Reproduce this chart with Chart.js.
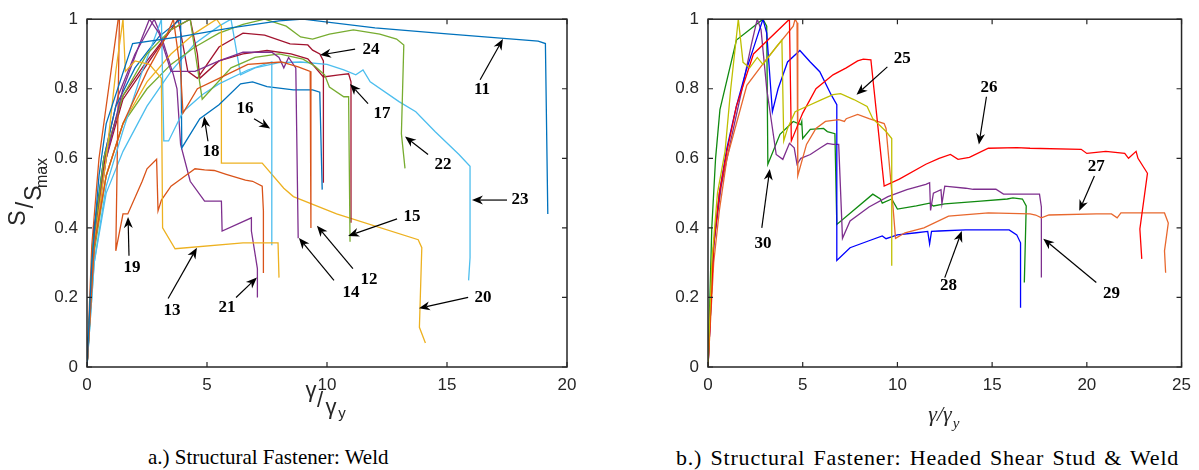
<!DOCTYPE html>
<html>
<head>
<meta charset="utf-8">
<script src="https://cdn.jsdelivr.net/npm/chart.js@4.4.1/dist/chart.umd.min.js"></script>
<style>
	body { margin: 0; background: #fff; width: 1199px; height: 470px; overflow: hidden; position: relative; }
	#wrapA { position: absolute; left: 0; top: 0; width: 600px; height: 440px; }
	#wrapB { position: absolute; left: 620px; top: 0; width: 579px; height: 440px; }
	.cap { position: absolute; top: 445px; font-family: "Liberation Serif", serif; font-size: 21px; color: #000; white-space: nowrap; }
</style>
</head>
<body>
<div id="wrapA"><canvas id="weldChart"></canvas></div>
<div id="wrapB"><canvas id="studChart"></canvas></div>
<div class="cap" style="left:148px">a.) Structural Fastener: Weld</div>
<div class="cap" style="left:676px; font-size:22px; letter-spacing:0.8px; word-spacing:2px">b.) Structural Fastener: Headed Shear Stud &amp; Weld</div>
<script>
//data: [gamma/gamma_y, S/Smax]

//a.) weld specimens
const weld11 = [[0,0],[0.2,0.3],[0.5,0.55],[0.8,0.7],[1.9,0.93],[3.9,0.95],[6,0.975],[8,0.995],[9,1.0],[12,0.975],[15,0.958],[18.8,0.937],[19.1,0.93],[19.2,0.44]];
const weld12 = [[0,0],[0.3,0.35],[0.8,0.55],[1.5,0.7],[2.5,0.85],[3.3,0.95],[3.6,1.0],[3.9,0.85],[4.0,0.73],[4.6,0.8],[5.5,0.83],[6.7,0.87],[8.1,0.877],[8.8,0.863],[9.3,0.85],[9.33,0.4]];
const weld13 = [[0,0],[0.3,0.35],[0.8,0.6],[1.2,0.85],[1.5,1.0],[1.6,0.85],[2.0,0.88],[2.6,0.87],[3.1,0.83],[3.15,0.4],[3.67,0.34],[6.5,0.357],[7.96,0.357],[8.0,0.257]];
const weld14 = [[0,0],[0.3,0.35],[0.8,0.6],[1.5,0.8],[2.2,0.93],[2.6,1.0],[3.0,0.96],[3.5,0.85],[4.5,0.85],[5.5,0.88],[6.5,0.905],[7.7,0.905],[8.0,0.89],[8.2,0.86],[8.4,0.89],[8.7,0.86],[8.8,0.37]];
const weld15 = [[0,0],[0.25,0.35],[0.7,0.6],[1.5,0.78],[2.5,0.9],[3.5,0.97],[4.3,1.0],[4.8,0.77],[5.2,0.8],[6,0.86],[7,0.89],[8,0.9],[9,0.885],[9.5,0.865],[9.9,0.84],[10.1,0.805],[10.7,0.777],[10.9,0.777],[10.96,0.36]];
const weld16 = [[0,0],[0.3,0.3],[0.8,0.52],[1.5,0.68],[2.3,0.85],[3.0,0.98],[3.1,1.0],[3.2,0.65],[3.4,0.65],[4.0,0.734],[4.8,0.783],[5.5,0.814],[6.7,0.854],[7.7,0.877],[7.7,0.35]];
const weld17 = [[0,0],[0.3,0.4],[0.8,0.62],[1.5,0.78],[2.5,0.88],[3.5,0.97],[4.3,1.0],[4.6,0.9],[4.7,0.83],[5.5,0.88],[6.5,0.9],[7.5,0.91],[8.5,0.9],[9.2,0.886],[9.85,0.834],[10.5,0.84],[10.9,0.843],[11.0,0.82],[11.0,0.415]];
const weld18 = [[0,0],[0.3,0.4],[0.7,0.6],[1.2,0.75],[2,0.86],[3,0.95],[3.9,1.0],[3.95,0.63],[4.7,0.714],[5.5,0.754],[6.4,0.814],[6.9,0.82],[7.5,0.806],[8.6,0.797],[9.4,0.797],[9.7,0.79],[9.8,0.51]];
const weld19 = [[0,0],[0.2,0.35],[0.5,0.6],[0.9,0.8],[1.2,0.95],[1.3,1.0],[1.35,1.0],[1.2,0.334],[1.5,0.44],[1.7,0.44],[2.3,0.534],[2.5,0.57],[2.9,0.597],[2.96,0.449],[3.1,0.48],[3.5,0.52],[3.9,0.54],[4.5,0.57],[4.9,0.567],[5.3,0.565],[5.8,0.554],[6.6,0.537],[6.9,0.534],[7.3,0.52],[7.35,0.449],[7.35,0.27]];
const weld20 = [[0,0],[0.3,0.35],[0.8,0.55],[1.5,0.7],[2.5,0.82],[3.5,0.9],[4.5,0.96],[5.4,1.0],[5.6,0.98],[5.6,0.586],[7.3,0.586],[8.2,0.514],[8.6,0.49],[10.4,0.44],[13.8,0.366],[13.95,0.343],[13.85,0.114],[14.1,0.069]];
const weld21 = [[0,0],[0.3,0.38],[0.7,0.6],[1.3,0.78],[2.0,0.9],[2.8,1.0],[3.1,0.95],[3.6,0.84],[3.75,0.8],[3.9,0.64],[4.3,0.534],[4.9,0.477],[5.6,0.477],[5.63,0.391],[6.85,0.429],[6.85,0.391],[7.1,0.283],[7.1,0.2]];
const weld22 = [[0,0],[0.3,0.33],[0.8,0.55],[1.5,0.7],[2.5,0.8],[3.5,0.87],[4.5,0.92],[5.5,0.96],[6.5,0.985],[7.4,1.0],[8.3,0.98],[8.9,0.949],[9.4,0.943],[10.1,0.957],[11.1,0.969],[12.2,0.957],[12.9,0.943],[13.2,0.926],[13.1,0.671],[13.25,0.571]];
const weld23 = [[0,0],[0.3,0.3],[0.8,0.5],[1.5,0.62],[2.5,0.75],[3.5,0.85],[4.5,0.93],[5.5,0.98],[6.0,1.0],[6.4,0.84],[7,0.86],[8,0.875],[8.9,0.877],[10,0.87],[10.7,0.854],[11.2,0.84],[11.5,0.854],[11.8,0.82],[13.0,0.763],[13.7,0.734],[14.5,0.677],[15.5,0.611],[15.96,0.577],[15.96,0.314],[15.9,0.249]];
const weld24 = [[0,0],[0.3,0.38],[0.8,0.6],[1.5,0.77],[2.5,0.87],[3.3,0.95],[3.8,1.0],[4.2,0.85],[4.6,0.83],[5.5,0.92],[6.5,0.96],[7.4,0.954],[8.46,0.929],[9.2,0.926],[9.4,0.911],[9.7,0.9],[9.85,0.88],[9.85,0.53]];

//b.) headed shear stud & weld specimens
const stud25 = [[0,0],[0.2,0.3],[0.5,0.5],[0.9,0.62],[1.2,0.8],[1.5,0.95],[1.6,1.0],[1.85,0.876],[2.2,0.86],[2.6,0.89],[2.9,0.87],[3.6,0.92],[3.9,0.94],[4.0,0.65],[4.2,0.686],[4.6,0.734],[5.2,0.749],[6.0,0.769],[6.6,0.783],[7.0,0.786],[7.7,0.769],[8.4,0.749],[8.7,0.714],[9.4,0.677],[9.7,0.657],[9.7,0.291]];
const stud26 = [[0,0],[0.3,0.35],[0.6,0.5],[1.0,0.62],[1.5,0.75],[2.4,0.9],[4.3,1.0],[4.4,0.65],[5.0,0.73],[5.7,0.8],[6.6,0.84],[7.3,0.86],[7.9,0.88],[8.2,0.885],[8.6,0.883],[9.3,0.52],[10.1,0.54],[11.5,0.583],[12.2,0.6],[12.8,0.611],[13.2,0.597],[13.8,0.603],[14.8,0.629],[16.3,0.631],[17,0.629],[19.7,0.626],[20,0.614],[21,0.62],[22,0.614],[22.2,0.6],[22.6,0.62],[22.7,0.6],[23.2,0.557],[22.8,0.397],[22.9,0.311]];
const stud27 = [[0,0],[0.3,0.3],[0.6,0.45],[1.0,0.6],[2.05,0.81],[3.1,0.886],[4.5,0.98],[4.6,1.0],[4.7,0.99],[4.74,0.55],[5.2,0.64],[5.7,0.686],[6.2,0.706],[6.9,0.711],[7.2,0.706],[7.3,0.714],[7.9,0.726],[8.5,0.714],[9.3,0.7],[9.4,0.686],[9.7,0.506],[9.9,0.37],[10.4,0.386],[11.4,0.4],[12.7,0.434],[14.8,0.443],[17,0.44],[17.3,0.437],[17.6,0.429],[18,0.437],[20.5,0.44],[21.3,0.44],[21.6,0.429],[21.8,0.443],[24.1,0.443],[24.3,0.414],[24.1,0.334],[24.16,0.271]];
const stud28 = [[0,0],[0.3,0.35],[0.6,0.5],[1.0,0.63],[1.5,0.75],[2.0,0.85],[2.6,0.95],[2.9,1.0],[3.1,0.96],[3.4,0.734],[3.7,0.8],[4.2,0.877],[4.85,0.91],[5.4,0.877],[5.9,0.849],[6.5,0.783],[6.8,0.754],[6.8,0.306],[7.5,0.343],[8.5,0.363],[9.2,0.377],[9.4,0.369],[10,0.38],[11,0.386],[11.6,0.39],[11.7,0.354],[11.8,0.39],[12.2,0.391],[13.6,0.394],[14.7,0.394],[15.9,0.394],[16.3,0.38],[16.5,0.357],[16.5,0.17]];
const stud29 = [[0,0],[0.3,0.35],[0.7,0.52],[1.2,0.65],[1.8,0.8],[2.3,0.93],[2.6,1.0],[2.8,0.97],[3.1,0.8],[3.6,0.611],[3.95,0.597],[4.3,0.643],[4.55,0.63],[4.7,0.583],[4.9,0.6],[5.4,0.611],[5.9,0.629],[6.3,0.643],[6.6,0.64],[6.9,0.64],[7.1,0.37],[7.5,0.42],[8.5,0.46],[9.5,0.49],[10.5,0.51],[11.5,0.525],[11.7,0.53],[11.75,0.45],[11.9,0.5],[12.3,0.51],[12.35,0.47],[12.5,0.52],[13.6,0.514],[14,0.511],[15.2,0.511],[15.6,0.497],[17.5,0.497],[17.6,0.46],[17.6,0.257]];
const stud30 = [[0,0],[0.2,0.4],[0.4,0.6],[0.63,0.74],[1.5,0.94],[2.9,1.0],[3.1,0.98],[3.16,0.583],[3.8,0.669],[4.5,0.706],[4.9,0.697],[4.95,0.706],[5.0,0.657],[5.4,0.683],[6.1,0.686],[6.3,0.677],[6.7,0.671],[6.8,0.41],[8.7,0.497],[9.1,0.483],[9.2,0.471],[9.7,0.483],[10,0.454],[11,0.463],[11.7,0.471],[11.9,0.463],[12.5,0.469],[14.4,0.477],[15.8,0.483],[16.1,0.486],[16.6,0.483],[16.8,0.463],[16.7,0.243]];

//series names and colours
const weldSeries = [weld11, weld12, weld13, weld14, weld15, weld16, weld17, weld18, weld19, weld20, weld21, weld22, weld23, weld24];
const weldColors = ['#0072BD','#D95319','#EDB120','#7E2F8E','#77AC30','#4DBEEE','#A2142F','#0072BD','#D95319','#EDB120','#7E2F8E','#77AC30','#4DBEEE','#A2142F'];
const studSeries = [stud25, stud26, stud27, stud28, stud29, stud30];
const studColors = ['#BFBF00','#FF0000','#E8682E','#0000FF','#7E2F8E','#108A10'];

//tick values
const yTicks = [0, 0.2, 0.4, 0.6, 0.8, 1];
const weldXTicks = [0, 5, 10, 15, 20];
const studXTicks = [0, 5, 10, 15, 20, 25];

//specimen labels: [text, label x, label y, arrow tail x, tail y, arrow head x, head y]
const weldNotes = [
	['11', 16.46, 0.797, 16.38, 0.826, 17.33, 0.943],
	['24', 11.83, 0.914, 11.17, 0.914, 9.71, 0.897],
	['17', 12.29, 0.729, 11.71, 0.757, 10.96, 0.814],
	['22', 14.83, 0.583, 14.21, 0.611, 13.25, 0.663],
	['23', 18.04, 0.48, 17.5, 0.48, 16.04, 0.48],
	['15', 13.54, 0.431, 12.92, 0.426, 10.88, 0.377],
	['12', 11.75, 0.251, 11.08, 0.283, 9.58, 0.406],
	['14', 11.0, 0.214, 10.29, 0.249, 8.83, 0.371],
	['20', 16.5, 0.2, 15.88, 0.2, 13.83, 0.169],
	['21', 5.83, 0.171, 6.21, 0.2, 7.08, 0.257],
	['13', 3.54, 0.163, 3.38, 0.197, 4.58, 0.343],
	['19', 1.88, 0.286, 1.75, 0.32, 1.71, 0.431],
	['18', 5.17, 0.62, 5.04, 0.649, 4.88, 0.72],
	['16', 6.58, 0.743, 6.96, 0.714, 7.63, 0.686]
];
const studNotes = [
	['25', 10.26, 0.886, 9.47, 0.863, 7.84, 0.783],
	['26', 14.84, 0.803, 14.7, 0.777, 14.3, 0.64],
	['27', 20.5, 0.577, 20.4, 0.549, 19.6, 0.449],
	['28', 12.7, 0.234, 12.5, 0.257, 13.4, 0.391],
	['29', 21.3, 0.211, 20.5, 0.243, 17.7, 0.369],
	['30', 2.9, 0.354, 2.84, 0.4, 3.26, 0.569]
];

const AXIS_COLOR = '#262626';
const TICK_FONT = { family: '"Liberation Sans", Arial, sans-serif', size: 17 };

//draw an arrow with a filled head
function drawArrow(ctx, x0, y0, x1, y1) {
	const a = Math.atan2(y1 - y0, x1 - x0);
	const L = 11, W = 4.5;
	const bx = x1 - L * Math.cos(a), by = y1 - L * Math.sin(a);
	const mx = x1 - L * 0.7 * Math.cos(a), my = y1 - L * 0.7 * Math.sin(a);
	ctx.beginPath();
	ctx.moveTo(x0, y0);
	ctx.lineTo(mx, my);
	ctx.stroke();
	ctx.beginPath();
	ctx.moveTo(x1, y1);
	ctx.lineTo(bx - W * Math.sin(a), by + W * Math.cos(a));
	ctx.lineTo(mx, my);
	ctx.lineTo(bx + W * Math.sin(a), by - W * Math.cos(a));
	ctx.closePath();
	ctx.fill();
}

//box, inward ticks, arrows and axis titles
function makeDecor(notes, xTicks, drawTitles) {
	return {
		id: 'decor',
		afterDraw(chart) {
			const ctx = chart.ctx;
			const a = chart.chartArea;
			const xs = chart.scales.x, ys = chart.scales.y;
			ctx.save();

			//labels and arrows
			ctx.strokeStyle = '#000';
			ctx.fillStyle = '#000';
			ctx.lineWidth = 1.2;
			ctx.font = 'bold 17px "Liberation Serif", serif';
			ctx.textAlign = 'center';
			ctx.textBaseline = 'middle';
			notes.forEach(n => {
				ctx.fillText(n[0], xs.getPixelForValue(n[1]), ys.getPixelForValue(n[2]));
				drawArrow(ctx, xs.getPixelForValue(n[3]), ys.getPixelForValue(n[4]),
					xs.getPixelForValue(n[5]), ys.getPixelForValue(n[6]));
			});

			//box and ticks
			ctx.strokeStyle = AXIS_COLOR;
			ctx.lineWidth = 1.5;
			ctx.strokeRect(a.left, a.top, a.right - a.left, a.bottom - a.top);
			ctx.lineWidth = 1.2;
			ctx.beginPath();
			xTicks.forEach(v => {
				const px = xs.getPixelForValue(v);
				ctx.moveTo(px, a.bottom); ctx.lineTo(px, a.bottom - 5);
				ctx.moveTo(px, a.top); ctx.lineTo(px, a.top + 5);
			});
			yTicks.forEach(v => {
				const py = ys.getPixelForValue(v);
				ctx.moveTo(a.left, py); ctx.lineTo(a.left + 5, py);
				ctx.moveTo(a.right, py); ctx.lineTo(a.right - 5, py);
			});
			ctx.stroke();

			ctx.fillStyle = AXIS_COLOR;
			drawTitles(ctx);
			ctx.restore();
		}
	};
}

function weldTitles(ctx) {
	//y title: S over S_max, stepped
	ctx.textAlign = 'center';
	ctx.textBaseline = 'middle';
	ctx.save();
	ctx.translate(30, 200);
	ctx.rotate(-Math.PI / 2);
	ctx.font = '23px "Liberation Sans", Arial, sans-serif';
	ctx.fillText('S', -18, -11);
	ctx.fillText('/', -5, -3);
	ctx.fillText('S', 7, 5);
	ctx.font = '16px "Liberation Sans", Arial, sans-serif';
	ctx.fillText('max', 27, 13);
	ctx.restore();

	//x title: gamma over gamma_y
	ctx.font = '22px "Liberation Sans", Arial, sans-serif';
	ctx.fillText('\u03b3', 311, 391);
	ctx.fillText('/', 320, 401);
	ctx.fillText('\u03b3', 331, 408);
	ctx.font = '15px "Liberation Sans", Arial, sans-serif';
	ctx.fillText('y', 342, 414);
}

function studTitles(ctx) {
	ctx.textAlign = 'center';
	ctx.textBaseline = 'middle';
	ctx.save();
	ctx.translate(650, 215);
	ctx.rotate(-Math.PI / 2);
	ctx.font = '24px "Liberation Sans", Arial, sans-serif';
	ctx.fillText('S/S', 0, 0);
	ctx.font = '17px "Liberation Sans", Arial, sans-serif';
	ctx.fillText('max', 39, 14);
	ctx.restore();

	ctx.font = 'italic 22px "Liberation Serif", serif';
	ctx.fillText('\u03b3/\u03b3', 940 - 620, 415);
	ctx.font = 'italic 15px "Liberation Serif", serif';
	ctx.fillText('y', 956 - 620, 424);
}

function makeConfig(series, colors, xMax, xStep, yWidth, padRight, notes, xTicks, titles) {
	return {
		type: 'scatter',
		data: {
			datasets: series.map((s, i) => ({
				data: s.map(p => ({ x: p[0], y: p[1] })),
				showLine: true,
				borderColor: colors[i],
				backgroundColor: colors[i],
				borderWidth: 1.3,
				pointRadius: 0,
				tension: 0
			}))
		},
		options: {
			responsive: true,
			maintainAspectRatio: false,
			animation: false,
			events: [],
			layout: { padding: { top: 17, right: padRight, left: 0, bottom: 0 } },
			plugins: { legend: { display: false }, tooltip: { enabled: false } },
			scales: {
				x: {
					type: 'linear',
					min: 0, max: xMax,
					grid: { display: false, drawTicks: false },
					border: { display: false },
					ticks: { stepSize: xStep, autoSkip: false, color: AXIS_COLOR, font: TICK_FONT, padding: 8, maxRotation: 0 },
					afterFit: s => { s.height = 73; }
				},
				y: {
					type: 'linear',
					min: 0, max: 1,
					grid: { display: false, drawTicks: false },
					border: { display: false },
					ticks: {
						stepSize: 0.2, autoSkip: false, color: AXIS_COLOR, font: TICK_FONT, padding: 9,
						callback: v => String(Math.round(v * 10) / 10)
					},
					afterFit: s => { s.width = yWidth; }
				}
			}
		},
		plugins: [makeDecor(notes, xTicks, titles)]
	};
}

const weldChart = new Chart(document.getElementById('weldChart'),
	makeConfig(weldSeries, weldColors, 20, 5, 87, 33, weldNotes, weldXTicks, weldTitles));
const studChart = new Chart(document.getElementById('studChart'),
	makeConfig(studSeries, studColors, 25, 5, 88, 16, studNotes, studXTicks, studTitles));
</script>
</body>
</html>
